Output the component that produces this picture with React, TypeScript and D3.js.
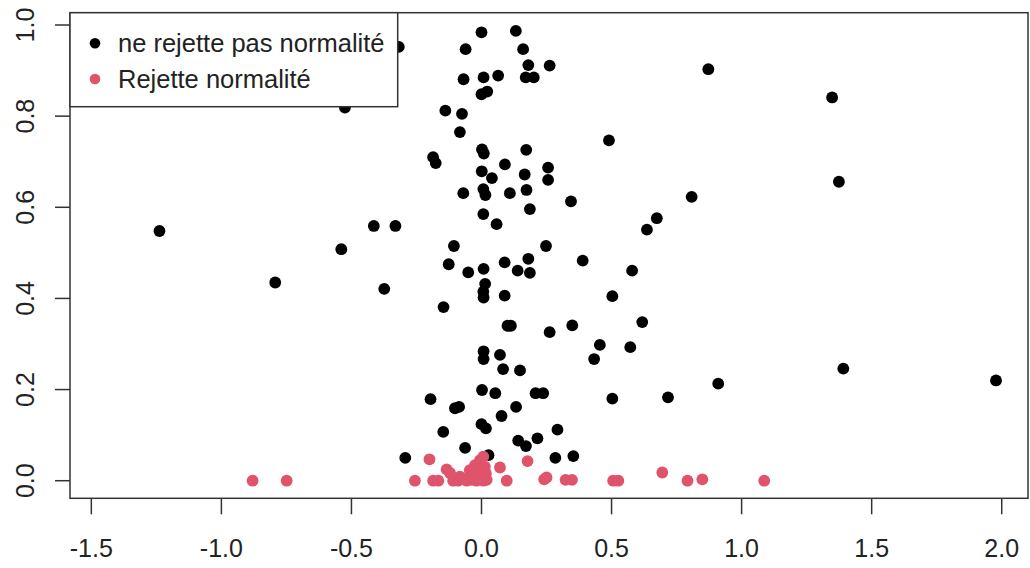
import { useEffect } from "react";
import * as d3 from "d3";

// mean (x) vs p-value (y), split by the normality test result
const okX = [
  0.132, 0.0, -0.318, -0.061, 0.16, 0.18, 0.262, 0.872, 0.17, 0.201, -0.069, 0.008, 0.064,
  0.0, 0.022, 1.348, -0.525, -0.139, -0.075, -0.083, 0.49, -0.186, -0.176, 0.002, 0.009,
  0.172, 0.09, 0.001, 0.04, 0.166, 0.256, 0.256, 1.374, -0.07, 0.007, 0.015, 0.109, 0.173,
  0.344, 0.808, 0.186, 0.007, 0.058, 0.674, 0.636, -1.238, -0.414, -0.331, -0.539, -0.106,
  0.248, -0.126, -0.051, 0.008, 0.089, 0.18, 0.139, 0.186, 0.389, 0.579, -0.793, -0.374,
  0.014, 0.007, 0.008, 0.089, 0.503, -0.146, 0.1, 0.113, 0.262, 0.349, 0.618, 0.455, 0.572,
  0.433, 0.008, 0.008, 0.071, 0.083, 0.148, 1.391, 1.978, 0.91, 0.002, 0.053, 0.208, 0.237,
  -0.196, 0.503, 0.717, -0.102, -0.086, 0.133, 0.077, 0.0, 0.017, -0.147, -0.063, 0.027,
  0.141, 0.171, 0.215, 0.292, 0.284, 0.353, -0.293,
];
const okP = [
  0.987, 0.984, 0.952, 0.947, 0.947, 0.912, 0.911, 0.903, 0.885, 0.885, 0.881, 0.885, 0.889,
  0.848, 0.854, 0.841, 0.819, 0.812, 0.805, 0.765, 0.747, 0.71, 0.697, 0.727, 0.718, 0.726,
  0.694, 0.679, 0.664, 0.672, 0.687, 0.66, 0.656, 0.631, 0.64, 0.627, 0.631, 0.638, 0.613,
  0.623, 0.596, 0.585, 0.563, 0.576, 0.551, 0.548, 0.559, 0.559, 0.508, 0.515, 0.515, 0.475,
  0.457, 0.465, 0.479, 0.487, 0.461, 0.456, 0.483, 0.461, 0.435, 0.421, 0.432, 0.415, 0.402,
  0.406, 0.405, 0.381, 0.34, 0.34, 0.326, 0.341, 0.348, 0.298, 0.293, 0.267, 0.284, 0.267,
  0.276, 0.245, 0.242, 0.246, 0.22, 0.213, 0.199, 0.192, 0.192, 0.192, 0.179, 0.18, 0.183,
  0.159, 0.162, 0.162, 0.142, 0.124, 0.115, 0.107, 0.072, 0.056, 0.088, 0.076, 0.093, 0.112,
  0.05, 0.054, 0.05,
];
const rejX = [
  -0.88, -0.749, -0.256, -0.2, -0.186, -0.166, -0.134, -0.121, -0.109, -0.09, -0.083, -0.057,
  -0.038, -0.019, 0.007, 0.02, -0.045, -0.025, -0.006, 0.007, 0.013, 0.017, 0.071, 0.097,
  0.177, 0.241, 0.25, 0.323, 0.348, 0.506, 0.526, 0.695, 0.792, 0.849, 1.087, -0.01, -0.033,
  -0.002, -0.07, -0.015,
];
const rejP = [
  0, 0, 0, 0.047, 0, 0, 0.025, 0.017, 0, 0, 0.009, 0, 0.002, 0, 0, 0.002, 0.023, 0.034, 0.045,
  0.053, 0.031, 0.016, 0.029, 0, 0.043, 0.003, 0.007, 0.002, 0.002, 0, 0, 0.018, 0, 0.003, 0,
  0.01, 0.01, 0.026, 0.004, 0.018,
];
const xTicks = [-1.5, -1.0, -0.5, 0.0, 0.5, 1.0, 1.5, 2.0];
const yTicks = [0.0, 0.2, 0.4, 0.6, 0.8, 1.0];
const legendLabels = ["ne rejette pas normalité", "Rejette normalité"];
const colors = ["#000000", "#DF536B"];

const W = 1030;
const H = 568;
const left = 70, right = 1028, top = 12.7, bottom = 498.3;

export default function App() {
  useEffect(() => {
    document.body.style.margin = "0";
  }, []);

  const x = d3.scaleLinear().domain([-1.582, 2.101]).range([left, right]);
  const y = d3.scaleLinear().domain([-0.0386, 1.027]).range([bottom, top]);
  const font = "'Liberation Sans', Arial, sans-serif";
  const axisCol = "#333";

  const ok = okX.map((v, i) => [v, okP[i]]);
  const rej = rejX.map((v, i) => [v, rejP[i]]);

  return (
    <svg width={W} height={H} style={{ display: "block" }} fontFamily={font}>
      <rect width={W} height={H} fill="#fff" />
      {ok.map((d, i) => (
        <circle key={"o" + i} cx={x(d[0])} cy={y(d[1])} r={5.9} fill={colors[0]} />
      ))}
      {rej.map((d, i) => (
        <circle key={"r" + i} cx={x(d[0])} cy={y(d[1])} r={5.9} fill={colors[1]} />
      ))}

      {/* axes */}
      {xTicks.map((t) => (
        <g key={"x" + t}>
          <line x1={x(t)} x2={x(t)} y1={bottom} y2={bottom + 16} stroke={axisCol} strokeWidth={1.5} />
          <text x={x(t)} y={556.5} textAnchor="middle" fontSize={25} fill="#222">
            {t.toFixed(1)}
          </text>
        </g>
      ))}
      {yTicks.map((t) => (
        <g key={"y" + t}>
          <line x1={left - 15} x2={left} y1={y(t)} y2={y(t)} stroke={axisCol} strokeWidth={1.5} />
          <text
            transform={`translate(33.5,${y(t)}) rotate(-90)`}
            textAnchor="middle"
            fontSize={25}
            fill="#222"
          >
            {t.toFixed(1)}
          </text>
        </g>
      ))}
      <rect
        x={left}
        y={top}
        width={right - left}
        height={bottom - top}
        fill="none"
        stroke={axisCol}
        strokeWidth={1.5}
      />

      {/* legend */}
      <rect x={left} y={top} width={327.7} height={94} fill="#fff" stroke={axisCol} strokeWidth={1.5} />
      {legendLabels.map((lab, i) => (
        <g key={lab} transform={`translate(0,${43.3 + i * 35.7})`}>
          <circle cx={95} cy={0} r={5.3} fill={colors[i]} />
          <text x={118} y={9} fontSize={25.5} fill="#222">
            {lab}
          </text>
        </g>
      ))}
    </svg>
  );
}
